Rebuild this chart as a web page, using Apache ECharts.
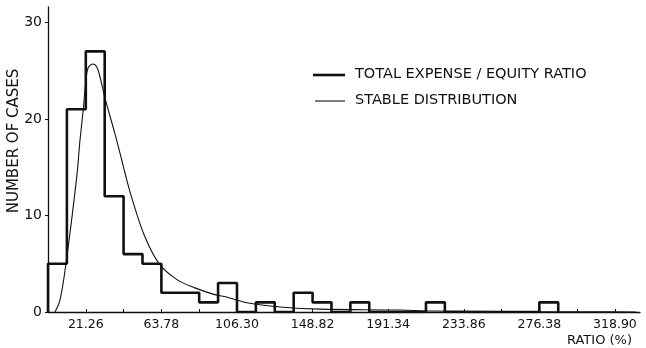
<!DOCTYPE html>
<html>
<head>
<meta charset="utf-8">
<script src="https://cdn.jsdelivr.net/npm/echarts@6/dist/echarts.min.js"></script>
<style>
html,body{margin:0;padding:0;background:#fff;}
#chart{width:646px;height:348px;}
</style>
</head>
<body>
<div id="chart"></div>
<script>
// Histogram: bin width (ratio %) and number of cases per bin, starting at 0
var binWidth = 10.63;
var binCounts = [5, 21, 27, 12, 6, 5, 2, 2, 1, 3, 0, 1, 0, 2, 1, 0, 1, 0, 0, 0, 1, 0, 0, 0, 0, 0, 1];
// Fitted stable distribution
var curveX = [3.9, 6.7, 10.1, 16.1, 18, 19.8, 21.2, 22.6, 25.4, 27.4, 29.2, 32, 37.6, 41.4, 43.3, 47, 54.5, 62.9, 73, 82.6, 93.8, 99.4, 113.5, 132, 153, 198, 215, 254, 310, 331];
var curveY = [0, 1.2, 5, 13.9, 17.8, 20.9, 23.7, 25.3, 25.7, 25.4, 24.4, 22.2, 18.5, 15.8, 14.4, 11.9, 7.8, 4.9, 3.3, 2.5, 1.8, 1.6, 0.9, 0.5, 0.3, 0.2, 0.1, 0.05, 0.02, 0];
// Axis ticks
var xTickStep = 21.26;
var yTickStep = 10;
var seriesNames = ['TOTAL EXPENSE / EQUITY RATIO', 'STABLE DISTRIBUTION'];
var yAxisTitle = 'NUMBER OF CASES';

var histData = [[0, 0]];
for (var i = 0; i < binCounts.length; i++) histData.push([i * binWidth, binCounts[i]]);
histData.push([binCounts.length * binWidth, binCounts[binCounts.length - 1]]);
histData.push([binCounts.length * binWidth, 0]);

var curveData = curveX.map(function (x, i) { return [x, curveY[i]]; });

var FONT = 'DejaVu Sans';
var chart = echarts.init(document.getElementById('chart'));
chart.setOption({
  animation: false,
  backgroundColor: '#fff',
  grid: { left: 48, right: 6, top: 7, bottom: 36, containLabel: false, outerBoundsMode: 'none' },
  xAxis: {
    type: 'value', min: 0, max: 333, interval: xTickStep,
    axisLine: { lineStyle: { color: '#111', width: 1.3 } },
    axisTick: { show: true, inside: true, length: 3, lineStyle: { color: '#111' } },
    splitLine: { show: false },
    axisLabel: {
      showMaxLabel: false, showMinLabel: false,
      color: '#111', fontFamily: FONT, fontSize: 12.5, margin: 6,
      formatter: function (v) {
        var k = Math.round(v / xTickStep);
        return (k % 2 === 1) ? (k * xTickStep).toFixed(2) : '';
      }
    },
    name: 'RATIO (%)', nameLocation: 'end', nameGap: 0,
    nameTextStyle: { color: '#111', fontFamily: FONT, fontSize: 13, align: 'right', verticalAlign: 'top', padding: [22, 8, 0, 0] }
  },
  yAxis: {
    type: 'value', min: 0, max: 31.6, interval: yTickStep,
    axisLine: { show: true, lineStyle: { color: '#111', width: 1.3 } },
    axisTick: { show: true, length: 3, lineStyle: { color: '#111' } },
    splitLine: { show: false },
    axisLabel: { showMaxLabel: false, color: '#111', fontFamily: FONT, fontSize: 14, margin: 6 }
  },
  series: [
    {
      name: seriesNames[0], type: 'line', step: 'end', data: histData,
      showSymbol: false, lineStyle: { color: '#111', width: 2.6 }, z: 3
    },
    {
      name: seriesNames[1], type: 'line', smooth: 0.35, data: curveData,
      showSymbol: false, lineStyle: { color: '#111', width: 1.1 }, z: 2
    }
  ],
  graphic: [
    { type: 'text', x: 14, y: 141, rotation: Math.PI / 2,
      style: { text: yAxisTitle, fill: '#111', font: '15px ' + FONT, align: 'center', verticalAlign: 'middle' } },
    { type: 'line', shape: { x1: 313, y1: 75, x2: 345, y2: 75 }, style: { stroke: '#111', lineWidth: 2.6 } },
    { type: 'text', left: 355, top: 67, style: { text: seriesNames[0], fill: '#111', font: '14.5px ' + FONT } },
    { type: 'line', shape: { x1: 315, y1: 101, x2: 345, y2: 101 }, style: { stroke: '#111', lineWidth: 1.1 } },
    { type: 'text', left: 355, top: 93, style: { text: seriesNames[1], fill: '#111', font: '14.5px ' + FONT } }
  ]
});
</script>
</body>
</html>
